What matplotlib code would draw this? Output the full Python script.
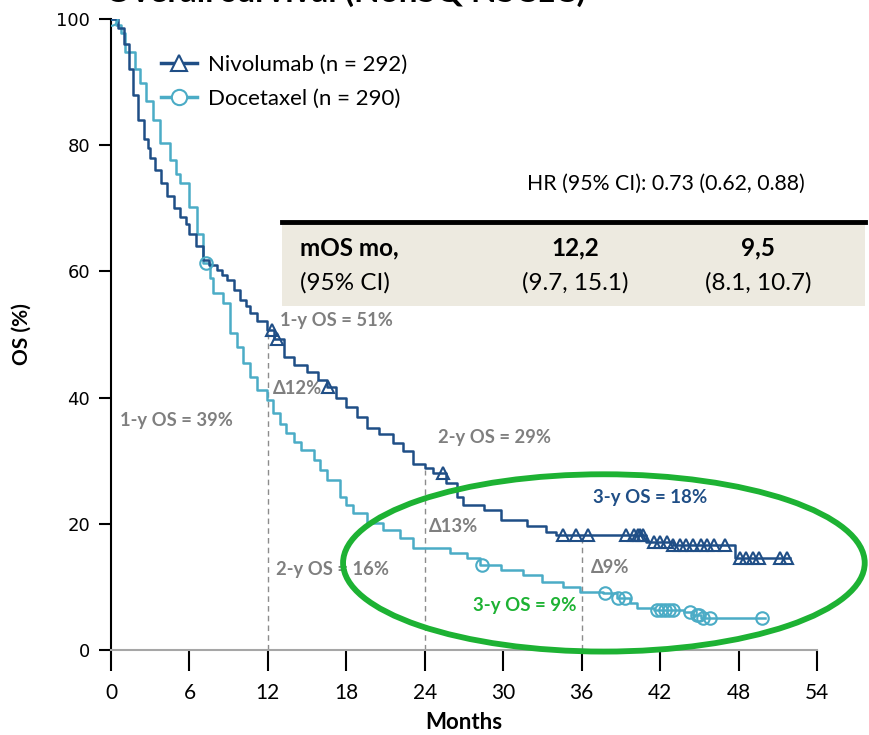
import matplotlib
matplotlib.use('Agg')
import matplotlib.pyplot as plt
from matplotlib.patches import Ellipse, Rectangle
from matplotlib.lines import Line2D
import numpy as np

# Kaplan-Meier step points (months, OS %)
nivo_t = [0, 0.5, 1.0, 1.4, 1.7, 2.1, 2.5, 2.8, 3.0, 3.4, 3.8, 4.3, 4.8, 5.3, 5.7, 6.0, 6.5, 7.0,
          7.5, 8.1, 8.5, 8.9, 9.4, 9.9, 10.3, 10.6, 11.2, 11.9, 12.5, 13.2, 14.0, 15.0, 15.8,
          16.5, 17.2, 18.0, 18.8, 19.6, 20.5, 21.6, 22.3, 23.1, 24.0, 24.6, 25.6, 26.5, 26.9,
          28.5, 29.8, 31.8, 33.3, 34.0, 40.9, 43.0, 47.7, 51.9]
nivo_s = [100, 98.5, 96, 92, 88, 84, 81, 79.5, 78, 76, 74, 72, 70, 68.6, 67.5, 66, 64, 61.8,
          61, 60.2, 59.5, 58.6, 57, 55.5, 54.5, 53.4, 52.2, 50.7, 49.3, 46.5, 45.2, 44, 42.8,
          41.7, 40, 38.5, 37, 35.2, 34.2, 32.8, 31.5, 29.5, 28.8, 28, 26.5, 24.2, 23,
          22.2, 20.6, 19.7, 18.7, 18.2, 17.1, 16.7, 14.6, 14.6]

doce_t = [0, 0.4, 0.8, 1.1, 1.8, 2.2, 2.7, 3.2, 3.75, 4.5, 5.0, 5.3, 6.0, 6.6, 7.0, 7.6, 7.8,
          8.6, 9.1, 9.6, 10.1, 10.6, 11.2, 11.9, 12.4, 12.9, 13.4, 14.0, 14.5, 15.5, 16.0,
          16.5, 17.5, 18.0, 18.5, 19.6, 20.8, 22.1, 23.1, 25.9, 27.2, 28.2, 29.8, 31.5, 33.0,
          34.6, 35.9, 37.6, 38.7, 39.7, 40.2, 41.5, 43.8, 44.5, 45.1, 50.0]
doce_s = [100, 99, 97.8, 94.8, 92, 89.8, 87, 84, 80.3, 77.6, 75.5, 74, 70.2, 66, 61.3, 59, 56.6,
          55, 50.2, 48, 45.5, 43.3, 41.2, 39.6, 37.5, 35.8, 34.4, 33, 31.7, 30.1, 28.5,
          26.9, 24.2, 23, 21.7, 20.1, 19, 17.7, 16.2, 15.4, 14.6, 13.5, 12.7, 11.9, 10.8,
          10.0, 9.2, 9.0, 8.2, 7.4, 6.6, 6.3, 6.0, 5.5, 5.1, 5.1]

# censoring times
nivo_cens = [12.3, 12.7, 16.6, 25.4, 34.6, 35.6, 36.5, 39.4, 40.0, 40.3, 40.5, 40.7, 41.5, 42.0,
             42.5, 43.0, 43.5, 44.0, 44.5, 45.1, 45.6, 46.1, 47.0, 48.1, 48.6, 49.1, 49.6,
             51.2, 51.7]
doce_cens = [0, 7.3, 28.4, 37.8, 38.8, 39.3, 41.8, 42.1, 42.4, 42.7, 43.0, 44.3, 44.8, 45.0,
             45.3, 45.8, 49.8]

landmarks = [12, 24, 36]
nivo_land = [50.5, 28.5, 18.2]

nivo_label = 'Nivolumab (n = 292)'
doce_label = 'Docetaxel (n = 290)'
hr_text = 'HR (95% CI): 0.73 (0.62, 0.88)'
table_rows = [('mOS mo,', '12,2', '9,5'), ('(95% CI)', '(9.7, 15.1)', '(8.1, 10.7)')]

NIVO = '#1F4E86'
DOCE = '#4BACC6'
GRAY = '#7F7F7F'
GREEN = '#1DB233'
FONT = ['Lato', 'DejaVu Sans']


def surv_at(times, surv, t):
    idx = np.searchsorted(times, t, side='right') - 1
    return np.array(surv)[idx]


fig = plt.figure(figsize=(8.7, 7.35), dpi=100)
ax = fig.add_axes([111 / 870, 85 / 735, 706 / 870, 631 / 735])

ax.step(nivo_t, nivo_s, where='post', color=NIVO, lw=1.8, zorder=4)
ax.step(doce_t, doce_s, where='post', color=DOCE, lw=1.8, zorder=3)
ax.plot(nivo_cens, surv_at(nivo_t, nivo_s, nivo_cens), ls='none', marker='^', ms=9,
        mfc='none', mec=NIVO, mew=1.5, zorder=5)
ax.plot(doce_cens, surv_at(doce_t, doce_s, doce_cens), ls='none', marker='o', ms=9,
        mfc='none', mec=DOCE, mew=1.5, zorder=5)

# landmark guides
for x, top in zip(landmarks, nivo_land):
    ax.plot([x, x], [0, top], color='#8C8C8C', lw=1, ls=(0, (4, 3)), zorder=2)

ax.set_xlim(0, 54)
ax.set_ylim(0, 100)
ax.set_xticks(range(0, 55, 6))
ax.set_yticks(range(0, 101, 20))
for s in ['top', 'right']:
    ax.spines[s].set_visible(False)
ax.spines['left'].set_linewidth(1.5)
ax.spines['bottom'].set_color('#A6A6A6')
ax.spines['bottom'].set_linewidth(1.5)
ax.tick_params(axis='y', direction='out', length=9, width=1.5, labelsize=13, pad=6)
ax.tick_params(axis='x', direction='out', length=15, width=1.5, labelsize=15, pad=9)
for lab in ax.get_xticklabels():
    lab.set_family(FONT)
ax.set_xlabel('Months', fontsize=16, fontweight='bold', family=FONT, labelpad=6)
ax.set_ylabel('OS (%)', fontsize=15, fontweight='bold', family=FONT, labelpad=18)

# legend
handles = [Line2D([], [], color=NIVO, lw=2.5, marker='^', ms=11, mfc='white', mec=NIVO, mew=1.5),
           Line2D([], [], color=DOCE, lw=2.5, marker='o', ms=11, mfc='white', mec=DOCE, mew=1.5)]
ax.legend(handles, [nivo_label, doce_label], loc='upper left', bbox_to_anchor=(0.043, 0.975),
          frameon=False, prop={'family': FONT, 'size': 16}, handlelength=1.6,
          handletextpad=0.5, labelspacing=0.62)

# title (runs off the top edge)
fig.text(345 / 870, 1 - 2 / 735, 'Overall survival (NonSQ NSCLC)', ha='center', va='baseline',
         fontsize=24, fontweight='bold', family=FONT)

# median OS table
fig.text(666 / 870, 1 - 184 / 735, hr_text, ha='center', va='center', fontsize=15.3, family=FONT)
fig.patches.append(Rectangle((282 / 870, 1 - 306 / 735), 583 / 870, 84 / 735,
                             transform=fig.transFigure, facecolor='#EDEAE0', edgecolor='none'))
fig.lines.append(Line2D([282 / 870, 865 / 870], [1 - 222 / 735] * 2, transform=fig.transFigure,
                        color='black', lw=3.5))
for (a, b, c), yy, wt in zip(table_rows, [248, 283], ['bold', 'normal']):
    y = 1 - yy / 735
    fig.text(300 / 870, y, a, ha='left', va='center', fontsize=17.5, fontweight=wt, family=FONT)
    fig.text(575 / 870, y, b, ha='center', va='center', fontsize=17.5, fontweight=wt, family=FONT)
    fig.text(758 / 870, y, c, ha='center', va='center', fontsize=17.5, fontweight=wt, family=FONT)

# landmark annotations
kw = dict(fontsize=13.2, fontweight='bold', color=GRAY, family=FONT, va='center', ha='left')
ax.text(12.9, 52.2, '1-y OS = 51%', **kw)
ax.text(12.4, 41.4, 'Δ12%', **kw)
ax.text(0.7, 36.3, '1-y OS = 39%', **kw)
ax.text(25.0, 33.6, '2-y OS = 29%', **kw)
ax.text(24.3, 19.5, 'Δ13%', **kw)
ax.text(12.6, 12.8, '2-y OS = 16%', **kw)
ax.text(36.7, 13.0, 'Δ9%', **kw)
ax.text(36.9, 24.2, '3-y OS = 18%', fontsize=13.4, fontweight='bold', color=NIVO, family=FONT,
        va='center', ha='left')
ax.text(27.7, 7.0, '3-y OS = 9%', fontsize=13.4, fontweight='bold', color=GREEN, family=FONT,
        va='center', ha='left')

ax.add_patch(Ellipse((37.7, 13.8), 39.9, 28.1, facecolor='none', edgecolor=GREEN, lw=4.2,
                     clip_on=False, zorder=6))

fig.savefig('out.png', dpi=100)
